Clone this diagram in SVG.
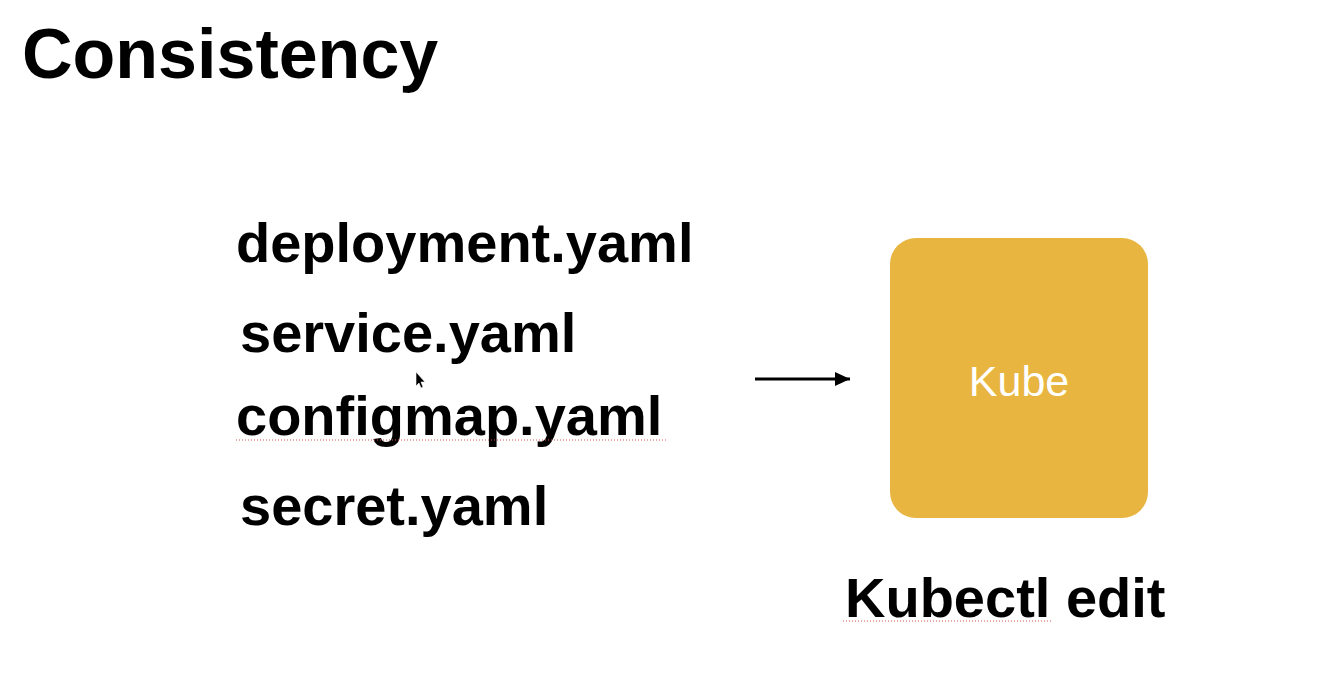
<svg xmlns="http://www.w3.org/2000/svg" width="1330" height="690" viewBox="0 0 1330 690">
  <style>
    .t { font-family: "Liberation Sans", Arial, Helvetica, sans-serif; font-weight: bold; fill: #000; }
    .file { font-size: 56px; }
    .spell { stroke: #d9534f; stroke-width: 1; stroke-dasharray: 1 2; fill: none; }
  </style>
  <defs>
    <marker id="arrowhead" viewBox="0 0 15 14" refX="15" refY="7" markerWidth="15" markerHeight="14" markerUnits="userSpaceOnUse" orient="auto">
      <path d="M0,0 L15,7 L0,14 z" fill="#000"/>
    </marker>
  </defs>
  <rect width="1330" height="690" fill="#fff"/>

  <g id="title">
    <text class="t" x="22" y="78" font-size="70">Consistency</text>
  </g>

  <g id="files">
    <text class="t file" x="236" y="262">deployment.yaml</text>
    <text class="t file" x="240" y="352">service.yaml</text>
    <text class="t file" x="236" y="435">configmap.yaml</text>
    <line class="spell" x1="236" y1="440" x2="668" y2="440"/>
    <text class="t file" x="240" y="525">secret.yaml</text>
  </g>

  <g id="cursor">
    <path d="M416,372 L416,386 L419,383 L421,388 L423,387 L421,382 L425,382 z" fill="#000" stroke="#fff" stroke-width="0.6"/>
  </g>

  <g id="connectors">
    <line x1="755" y1="379" x2="850" y2="379" stroke="#000" stroke-width="3" marker-end="url(#arrowhead)"/>
  </g>

  <g id="kube">
    <rect x="890" y="238" width="258" height="280" rx="26" ry="26" fill="#E8B640"/>
    <text x="1019" y="396" font-family="Liberation Sans, Arial, sans-serif" font-size="43" fill="#fff" text-anchor="middle">Kube</text>
  </g>

  <g id="kubectl-label">
    <text class="t file" x="845" y="617">Kubectl edit</text>
    <line class="spell" x1="843" y1="621" x2="1052" y2="621"/>
  </g>
</svg>
